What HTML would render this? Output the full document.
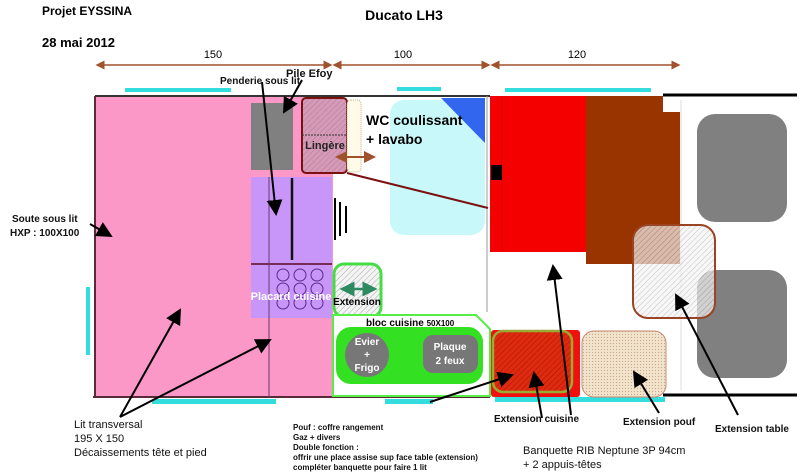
<!DOCTYPE html>
<html><head><meta charset="utf-8"><style>
body{margin:0;background:#fff;}
svg{display:block;font-family:"Liberation Sans",sans-serif;}
.b{font-weight:bold;}
</style></head><body>
<svg width="800" height="475" viewBox="0 0 800 475" xmlns="http://www.w3.org/2000/svg">
<defs>
<pattern id="hg" width="4" height="4" patternUnits="userSpaceOnUse" patternTransform="rotate(45)"><rect width="4" height="4" fill="#f4f4f4"/><line x1="0" y1="0" x2="0" y2="4" stroke="#aaa" stroke-width="1"/></pattern>
<pattern id="hr" width="4" height="4" patternUnits="userSpaceOnUse" patternTransform="rotate(45)"><rect width="4" height="4" fill="#e02a10"/><line x1="0" y1="0" x2="0" y2="4" stroke="#a01800" stroke-width="1"/></pattern>
<pattern id="hp" width="4" height="4" patternUnits="userSpaceOnUse" patternTransform="rotate(45)"><rect width="4" height="4" fill="#d49ab8"/><line x1="0" y1="0" x2="0" y2="4" stroke="#b87898" stroke-width="1"/></pattern>
<pattern id="dt" width="3" height="3" patternUnits="userSpaceOnUse"><rect width="3" height="3" fill="#f2e4cc"/><circle cx="1.5" cy="1.5" r="0.6" fill="#c8a888"/></pattern>
<marker id="ab" markerWidth="8" markerHeight="8" refX="7" refY="4" orient="auto"><path d="M0,0 L8,4 L0,8 z" fill="#000"/></marker>
<marker id="ar" markerWidth="6" markerHeight="6" refX="5" refY="3" orient="auto-start-reverse"><path d="M0,0 L6,3 L0,6 z" fill="#a0522d"/></marker>
<marker id="ag" markerWidth="6" markerHeight="6" refX="5" refY="3" orient="auto-start-reverse"><path d="M0,0 L6,3 L0,6 z" fill="#2e8a60"/></marker>
</defs>

<text x="42" y="15" font-size="12" class="b">Projet EYSSINA</text>
<text x="42" y="47" font-size="13" class="b">28 mai 2012</text>
<text x="404" y="20" font-size="14" class="b" text-anchor="middle">Ducato LH3</text>

<g stroke="#a0522d" stroke-width="1.5">
<line x1="97" y1="65" x2="331" y2="65" marker-start="url(#ar)" marker-end="url(#ar)"/>
<line x1="334" y1="65" x2="489" y2="65" marker-start="url(#ar)" marker-end="url(#ar)"/>
<line x1="492" y1="65" x2="679" y2="65" marker-start="url(#ar)" marker-end="url(#ar)"/>
</g>
<text x="213" y="58" font-size="11" text-anchor="middle">150</text>
<text x="403" y="58" font-size="11" text-anchor="middle">100</text>
<text x="577" y="58" font-size="11" text-anchor="middle">120</text>

<g fill="#33dddd">
<rect x="125" y="88" width="106" height="4"/>
<rect x="397" y="87" width="44" height="4"/>
<rect x="505" y="88" width="146" height="4"/>
<rect x="86" y="287" width="4" height="68"/>
<rect x="152" y="399" width="124" height="5"/>
<rect x="385" y="399" width="48" height="5"/>
<rect x="495" y="397" width="170" height="5"/>
</g>

<rect x="95" y="96" width="238" height="301" fill="#fb98c8"/>
<line x1="95" y1="96" x2="490" y2="96" stroke="#333" stroke-width="2"/>
<line x1="95" y1="96" x2="95" y2="397" stroke="#5a2a3a" stroke-width="2"/>
<line x1="93" y1="397" x2="490" y2="397" stroke="#5a2a3a" stroke-width="2"/>
<line x1="487" y1="96" x2="487" y2="312" stroke="#999" stroke-width="1"/>

<rect x="251" y="103" width="42" height="67" fill="#808080"/>
<rect x="251" y="177" width="81" height="141" fill="#c896f8"/>
<line x1="251" y1="264" x2="332" y2="264" stroke="#7a2a5a" stroke-width="2"/>
<line x1="269" y1="177" x2="269" y2="397" stroke="#6a3a6a" stroke-width="1"/>
<line x1="292" y1="178" x2="292" y2="260" stroke="#111" stroke-width="2.5"/>
<g fill="none" stroke="#5a2a8a" stroke-width="1">
<circle cx="283" cy="275" r="6"/><circle cx="300" cy="275" r="6"/><circle cx="317" cy="275" r="6"/>
<circle cx="283" cy="289" r="6"/><circle cx="300" cy="289" r="6"/><circle cx="317" cy="289" r="6"/>
<circle cx="283" cy="303" r="6"/><circle cx="300" cy="303" r="6"/><circle cx="317" cy="303" r="6"/>
</g>
<text x="291" y="300" font-size="11" class="b" fill="#fff" text-anchor="middle">Placard cuisine</text>

<rect x="302" y="98" width="45" height="75" rx="4" fill="url(#hp)" stroke="#7a1010" stroke-width="2"/>
<line x1="302" y1="135" x2="347" y2="135" stroke="#333" stroke-dasharray="2,1"/>
<rect x="347" y="100" width="14" height="72" rx="4" fill="#fffbe8" stroke="#c8b088" stroke-dasharray="1,1"/>
<text x="325" y="149" font-size="11" class="b" fill="#222" text-anchor="middle">Lingère</text>
<line x1="337" y1="157" x2="374" y2="157" stroke="#a0522d" stroke-width="2" marker-start="url(#ar)" marker-end="url(#ar)"/>

<rect x="390" y="100" width="95" height="135" rx="14" fill="#c8f8fa"/>
<path d="M441,98 L485,98 L485,143 Z" fill="#3366ee"/>
<line x1="347" y1="173" x2="488" y2="208" stroke="#7a1010" stroke-width="2"/>
<text x="366" y="125" font-size="14" class="b">WC coulissant</text>
<text x="366" y="144" font-size="14" class="b">+ lavabo</text>
<g stroke="#000" stroke-width="2"><line x1="335" y1="198" x2="335" y2="240"/><line x1="340" y1="202" x2="340" y2="236"/><line x1="346" y1="206" x2="346" y2="233"/></g>

<rect x="490" y="96" width="96" height="156" fill="#f50000"/>
<line x1="502" y1="96" x2="502" y2="252" stroke="#d00" stroke-width="1"/>
<rect x="491" y="165" width="11" height="15" fill="#000"/>
<rect x="586" y="96" width="94" height="168" fill="#993300"/>
<rect x="663" y="96" width="17" height="16" fill="#fff"/>
<line x1="663" y1="95" x2="797" y2="95" stroke="#000" stroke-width="3"/>
<line x1="663" y1="395" x2="797" y2="395" stroke="#000" stroke-width="3"/>
<line x1="681" y1="100" x2="681" y2="390" stroke="#ddd" stroke-width="1"/>
<rect x="697" y="114" width="90" height="108" rx="18" fill="#808080"/>
<rect x="697" y="270" width="90" height="108" rx="18" fill="#808080"/>
<rect x="633" y="225" width="82" height="93" rx="15" fill="url(#hg)" fill-opacity="0.7" stroke="#994422" stroke-width="2"/>

<rect x="334" y="264" width="47" height="53" rx="10" fill="url(#hg)" stroke="#44dd44" stroke-width="3"/>
<line x1="342" y1="289" x2="375" y2="289" stroke="#2e8a60" stroke-width="2.5" marker-start="url(#ag)" marker-end="url(#ag)"/>
<text x="357" y="305" font-size="10" class="b" text-anchor="middle">Extension</text>

<path d="M333,315 L476,315 L490,329 L490,396 L333,396 Z" fill="#fff" stroke="#55ee44" stroke-width="2"/>
<text x="366" y="326" font-size="10" class="b">bloc cuisine <tspan font-size="8">50X100</tspan></text>
<rect x="336" y="327" width="147" height="57" rx="15" fill="#33e022"/>
<circle cx="367" cy="355" r="22" fill="#777"/>
<text x="367" y="345" font-size="10" class="b" fill="#fff" text-anchor="middle">Evier</text>
<text x="367" y="358" font-size="10" class="b" fill="#fff" text-anchor="middle">+</text>
<text x="367" y="371" font-size="10" class="b" fill="#fff" text-anchor="middle">Frigo</text>
<rect x="423" y="335" width="55" height="38" rx="10" fill="#777"/>
<text x="450" y="350" font-size="10" class="b" fill="#fff" text-anchor="middle">Plaque</text>
<text x="450" y="364" font-size="10" class="b" fill="#fff" text-anchor="middle">2 feux</text>

<rect x="491" y="330" width="89" height="67" rx="3" fill="#f01010"/>
<rect x="493" y="331" width="79" height="61" rx="10" fill="url(#hr)" stroke="#9aaa33" stroke-width="2.5"/>
<rect x="582" y="331" width="84" height="66" rx="12" fill="url(#dt)" stroke="#c88870" stroke-width="1"/>

<g stroke="#000" stroke-width="2" fill="none">
<line x1="90" y1="224" x2="111" y2="236" marker-end="url(#ab)"/>
<line x1="262" y1="82" x2="276" y2="214" marker-end="url(#ab)"/>
<line x1="302" y1="80" x2="284" y2="112" marker-end="url(#ab)"/>
<line x1="120" y1="417" x2="180" y2="310" marker-end="url(#ab)"/>
<line x1="120" y1="417" x2="270" y2="340" marker-end="url(#ab)"/>
<line x1="430" y1="402" x2="512" y2="375" marker-end="url(#ab)"/>
<line x1="542" y1="418" x2="534" y2="373" marker-end="url(#ab)"/>
<line x1="571" y1="415" x2="553" y2="266" marker-end="url(#ab)"/>
<line x1="659" y1="413" x2="634" y2="372" marker-end="url(#ab)"/>
<line x1="738" y1="415" x2="676" y2="295" marker-end="url(#ab)"/>
</g>

<g font-size="10" class="b" fill="#111">
<text x="220" y="84" font-size="10">Penderie sous lit</text>
<text x="286" y="77" font-size="11">Pile Efoy</text>
<text x="12" y="222">Soute sous lit</text>
<text x="10" y="236">HXP : 100X100</text>
<text x="74" y="428" font-size="11" font-weight="normal">Lit transversal</text>
<text x="74" y="442" font-size="11" font-weight="normal">195 X 150</text>
<text x="74" y="456" font-size="11" font-weight="normal">Décaissements tête et pied</text>
<text x="293" y="430" font-size="8">Pouf : coffre rangement</text>
<text x="293" y="440" font-size="8">Gaz + divers</text>
<text x="293" y="450" font-size="8">Double fonction :</text>
<text x="293" y="460" font-size="8">offrir une place assise sup face table (extension)</text>
<text x="293" y="470" font-size="8">compléter banquette pour faire 1 lit</text>
<text x="494" y="422" font-size="10">Extension cuisine</text>
<text x="623" y="425" font-size="10">Extension pouf</text>
<text x="715" y="432" font-size="10">Extension table</text>
<text x="523" y="454" font-size="11" font-weight="normal">Banquette RIB Neptune 3P 94cm</text>
<text x="523" y="468" font-size="11" font-weight="normal">+ 2 appuis-têtes</text>
</g>
</svg>
</body></html>
